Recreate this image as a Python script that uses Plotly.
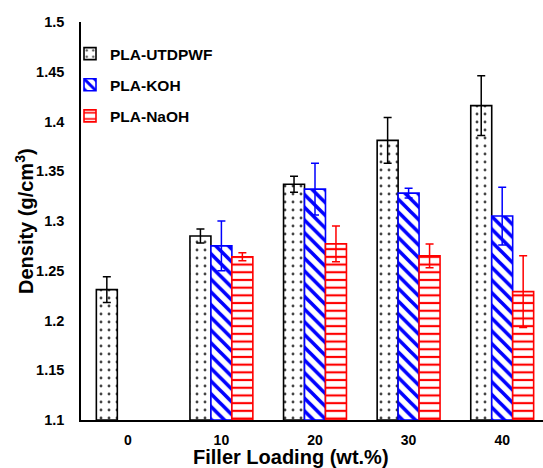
import plotly.graph_objects as go

# Filler loading categories (wt.%)
categories = ["0", "10", "20", "30", "40"]

# Density means and standard deviations (g/cm^3)
utdpwf_density = [1.231, 1.285, 1.337, 1.381, 1.416]
utdpwf_err = [0.013, 0.007, 0.008, 0.023, 0.030]

koh_density = [None, 1.275, 1.332, 1.328, 1.305]
koh_err = [None, 0.025, 0.026, 0.005, 0.029]

naoh_density = [None, 1.264, 1.277, 1.265, 1.229]
naoh_err = [None, 0.004, 0.018, 0.012, 0.036]

y_ticks = [1.1, 1.15, 1.2, 1.25, 1.3, 1.35, 1.4, 1.45, 1.5]
y_tick_text = ["1.1", "1.15", "1.2", "1.25", "1.3", "1.35", "1.4", "1.45", "1.5"]

Y_FLOOR = 1.1

W, H = 543, 468
ML, MR, MT, MB = 81, 0, 22, 48
plot_w = W - ML - MR
plot_h = H - MT - MB

FONT = "Arial, Liberation Sans, sans-serif"

series = [
    ("PLA-UTDPWF", utdpwf_density, utdpwf_err, "#000000",
     dict(shape=".", size=8, solidity=0.1, fgcolor="#444444", bgcolor="white", fillmode="replace")),
    ("PLA-KOH", koh_density, koh_err, "#0000FF",
     dict(shape="\\", size=9, solidity=0.4, fgcolor="#0000FF", bgcolor="white", fillmode="replace")),
    ("PLA-NaOH", naoh_density, naoh_err, "#FF0000",
     dict(shape="-", size=7.7, solidity=0.28, fgcolor="#FF0000", bgcolor="white", fillmode="replace")),
]

fig = go.Figure()
for i, (name, vals, errs, col, pat) in enumerate(series):
    # Bars rise from the axis floor, so heights are offsets above it
    heights = [(v - Y_FLOOR) if v is not None else None for v in vals]
    bases = [Y_FLOOR if v is not None else None for v in vals]
    fig.add_trace(go.Bar(
        name=name,
        x=categories,
        y=heights,
        base=bases,
        legendgroup=f"g{i}",
        marker=dict(color="white", line=dict(color=col, width=1.6), pattern=pat),
        error_y=dict(type="data", array=errs, visible=True, color=col,
                     thickness=1.5, width=4),
    ))

fig.update_layout(
    width=W, height=H,
    margin=dict(l=ML, r=MR, t=MT, b=MB, pad=0),
    paper_bgcolor="white", plot_bgcolor="white",
    barmode="group", bargap=0.328, bargroupgap=0,
    font=dict(family=FONT, color="#000000"),
    showlegend=True,
    legend=dict(
        x=(70 - ML) / plot_w, y=1 - (37 - MT) / plot_h,
        xanchor="left", yanchor="top",
        bgcolor="rgba(0,0,0,0)",
        font=dict(family=FONT, size=15.5, weight="bold", color="#000000"),
        tracegroupgap=8,
        itemwidth=30,
    ),
    xaxis=dict(
        type="category",
        range=[-0.5, -0.5 + plot_w / 93.6],
        showline=True, linecolor="#000000", linewidth=1.5,
        showgrid=False, zeroline=False, ticks="",
        tickfont=dict(family=FONT, size=14, weight="bold", color="#000000"),
        ticklabelstandoff=6,
    ),
    yaxis=dict(
        range=[1.1, 1.5],
        tickvals=y_ticks, ticktext=y_tick_text,
        showline=True, linecolor="#000000", linewidth=1.5,
        showgrid=False, zeroline=False, ticks="",
        tickfont=dict(family=FONT, size=14.5, weight="bold", color="#000000"),
        ticklabelstandoff=12,
    ),
    annotations=[
        dict(text="Filler Loading (wt.%)", xref="paper", yref="paper",
             x=(291 - ML) / plot_w, y=-(457 - (H - MB)) / plot_h,
             xanchor="center", yanchor="middle", showarrow=False,
             font=dict(family=FONT, size=20, weight="bold", color="#000000")),
        dict(text="Density (g/cm<sup>3</sup>)", xref="paper", yref="paper",
             x=(24 - ML) / plot_w, y=0.5, textangle=-90,
             xanchor="center", yanchor="middle", showarrow=False,
             font=dict(family=FONT, size=20, weight="bold", color="#000000")),
    ],
)

fig.write_html("out.html")
